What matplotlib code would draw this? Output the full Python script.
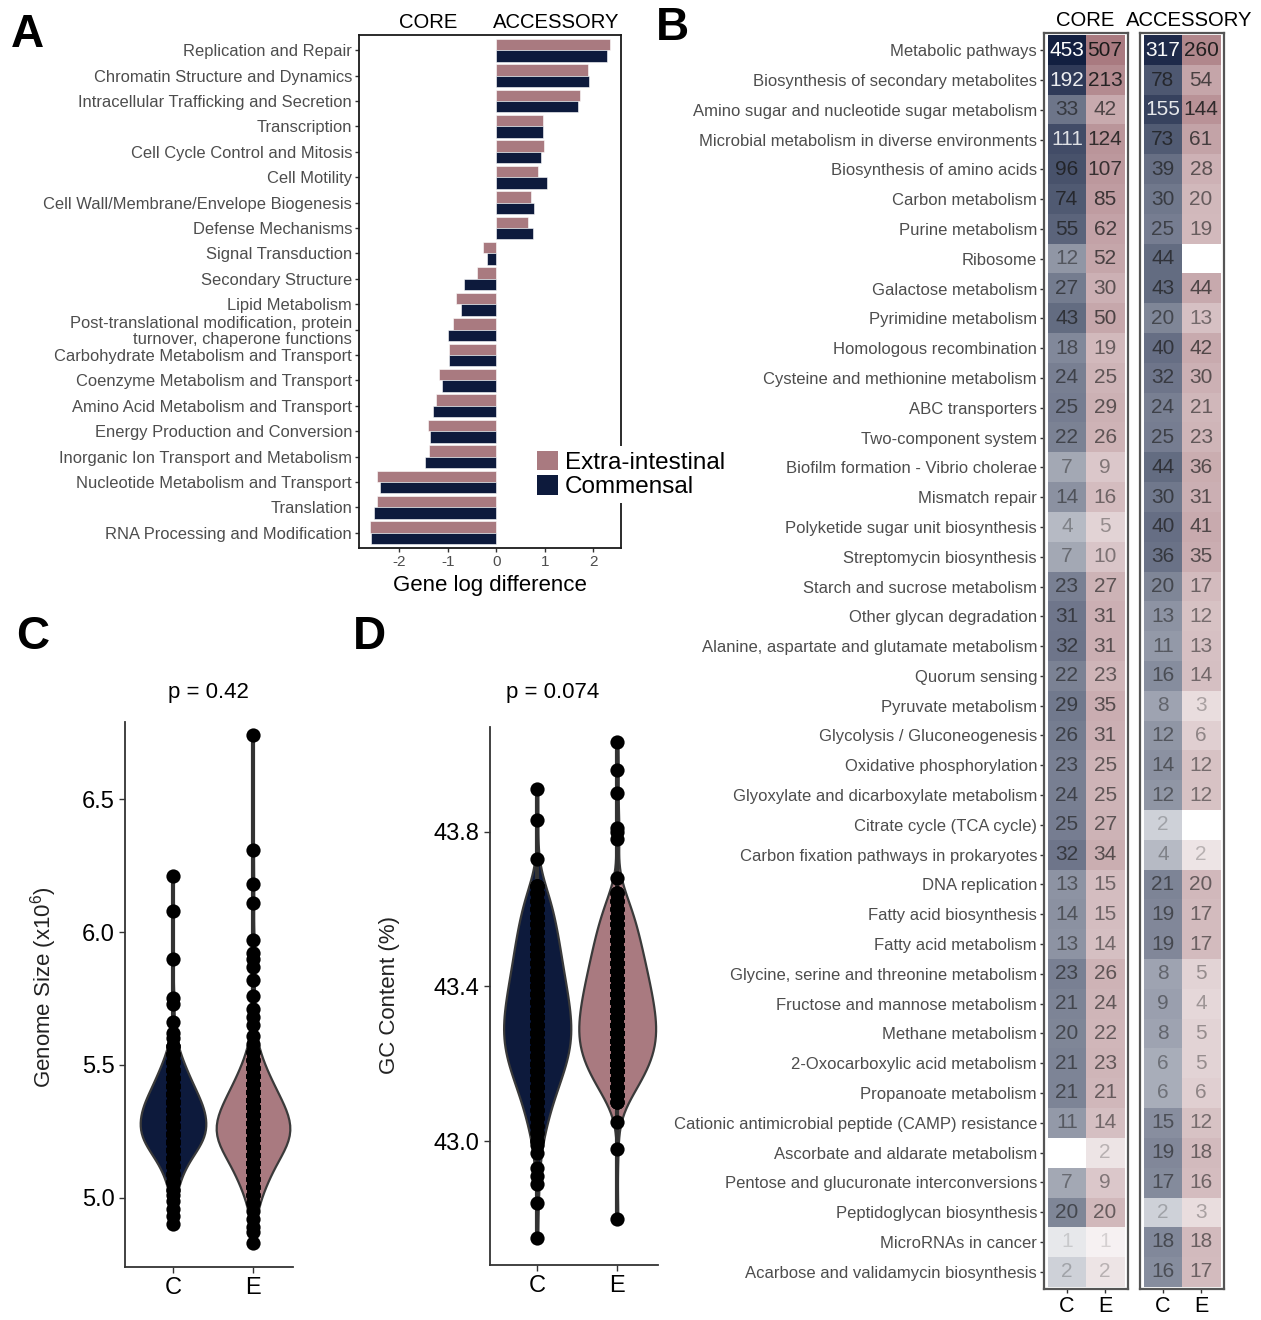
import numpy as np
import matplotlib
matplotlib.use('Agg')
import matplotlib.pyplot as plt
from matplotlib.patches import Patch
from matplotlib.colors import to_rgb

plt.rcParams['font.family'] = ['Liberation Sans', 'DejaVu Sans']
plt.rcParams['mathtext.fontset'] = 'custom'
plt.rcParams['mathtext.rm'] = 'Liberation Sans'

NAVY = '#0d1a3c'
PINK = '#a97a80'
GREY30 = '#4d4d4d'

# ---- panel A : COG categories, gene log difference
cog = ['Replication and Repair', 'Chromatin Structure and Dynamics',
       'Intracellular Trafficking and Secretion', 'Transcription',
       'Cell Cycle Control and Mitosis', 'Cell Motility',
       'Cell Wall/Membrane/Envelope Biogenesis', 'Defense Mechanisms',
       'Signal Transduction', 'Secondary Structure', 'Lipid Metabolism',
       'Post-translational modification, protein\nturnover, chaperone functions',
       'Carbohydrate Metabolism and Transport', 'Coenzyme Metabolism and Transport',
       'Amino Acid Metabolism and Transport', 'Energy Production and Conversion',
       'Inorganic Ion Transport and Metabolism', 'Nucleotide Metabolism and Transport',
       'Translation', 'RNA Processing and Modification']
cog_extra = [2.34, 1.88, 1.73, 0.97, 0.98, 0.86, 0.72, 0.66, -0.28, -0.40,
             -0.84, -0.90, -0.98, -1.18, -1.25, -1.41, -1.38, -2.46, -2.45, -2.60]
cog_comm = [2.28, 1.91, 1.68, 0.97, 0.93, 1.04, 0.77, 0.76, -0.20, -0.66,
            -0.72, -1.00, -0.97, -1.12, -1.30, -1.37, -1.46, -2.39, -2.52, -2.59]

# ---- panel B : KEGG pathway gene counts
kegg = ['Metabolic pathways', 'Biosynthesis of secondary metabolites',
        'Amino sugar and nucleotide sugar metabolism',
        'Microbial metabolism in diverse environments', 'Biosynthesis of amino acids',
        'Carbon metabolism', 'Purine metabolism', 'Ribosome', 'Galactose metabolism',
        'Pyrimidine metabolism', 'Homologous recombination',
        'Cysteine and methionine metabolism', 'ABC transporters', 'Two-component system',
        'Biofilm formation - Vibrio cholerae', 'Mismatch repair',
        'Polyketide sugar unit biosynthesis', 'Streptomycin biosynthesis',
        'Starch and sucrose metabolism', 'Other glycan degradation',
        'Alanine, aspartate and glutamate metabolism', 'Quorum sensing',
        'Pyruvate metabolism', 'Glycolysis / Gluconeogenesis', 'Oxidative phosphorylation',
        'Glyoxylate and dicarboxylate metabolism', 'Citrate cycle (TCA cycle)',
        'Carbon fixation pathways in prokaryotes', 'DNA replication',
        'Fatty acid biosynthesis', 'Fatty acid metabolism',
        'Glycine, serine and threonine metabolism', 'Fructose and mannose metabolism',
        'Methane metabolism', '2-Oxocarboxylic acid metabolism', 'Propanoate metabolism',
        'Cationic antimicrobial peptide (CAMP) resistance',
        'Ascorbate and aldarate metabolism', 'Pentose and glucuronate interconversions',
        'Peptidoglycan biosynthesis', 'MicroRNAs in cancer',
        'Acarbose and validamycin biosynthesis']
nan = np.nan
core_c = [453, 192, 33, 111, 96, 74, 55, 12, 27, 43, 18, 24, 25, 22, 7, 14, 4, 7, 23, 31, 32,
          22, 29, 26, 23, 24, 25, 32, 13, 14, 13, 23, 21, 20, 21, 21, 11, nan, 7, 20, 1, 2]
core_e = [507, 213, 42, 124, 107, 85, 62, 52, 30, 50, 19, 25, 29, 26, 9, 16, 5, 10, 27, 31, 31,
          23, 35, 31, 25, 25, 27, 34, 15, 15, 14, 26, 24, 22, 23, 21, 14, 2, 9, 20, 1, 2]
acc_c = [317, 78, 155, 73, 39, 30, 25, 44, 43, 20, 40, 32, 24, 25, 44, 30, 40, 36, 20, 13, 11,
         16, 8, 12, 14, 12, 2, 4, 21, 19, 19, 8, 9, 8, 6, 6, 15, 19, 17, 2, 18, 16]
acc_e = [260, 54, 144, 61, 28, 20, 19, nan, 44, 13, 42, 30, 21, 23, 36, 31, 41, 35, 17, 12, 13,
         14, 3, 6, 12, 12, nan, 2, 20, 17, 17, 5, 4, 5, 5, 6, 12, 18, 16, 3, 18, 17]

# ---- panel C : genome size (x10^6); dense core as value / count, plus single points
gs_c_core = [5.03, 5.06, 5.09, 5.12, 5.15, 5.18, 5.21, 5.24, 5.27, 5.30,
             5.33, 5.36, 5.39, 5.42, 5.45, 5.48, 5.51, 5.54, 5.57, 5.60]
gs_c_n = [2, 4, 5, 7, 10, 14, 18, 20, 20, 19, 19, 17, 14, 12, 10, 8, 6, 4, 3, 1]
gs_c_single = [4.90, 4.93, 4.96, 4.99, 5.01, 5.62, 5.66, 5.73, 5.75, 5.90, 6.08, 6.21]
gs_e_core = [4.98, 5.01, 5.04, 5.07, 5.10, 5.13, 5.16, 5.19, 5.22, 5.25,
             5.28, 5.31, 5.34, 5.37, 5.40, 5.43, 5.46, 5.49, 5.52, 5.55]
gs_e_n = [2, 4, 6, 7, 8, 10, 12, 16, 19, 20, 18, 17, 15, 13, 11, 9, 7, 6, 4, 3]
gs_e_single = [4.83, 4.87, 4.89, 4.92, 4.95, 5.58, 5.61, 5.65, 5.68, 5.71, 5.76, 5.82,
               5.87, 5.90, 5.92, 5.97, 6.11, 6.18, 6.31, 6.74]

# ---- panel D : GC content (%)
gc_c_core = [43.00, 43.02, 43.04, 43.06, 43.08, 43.10, 43.12, 43.14, 43.16, 43.18, 43.20, 43.22,
             43.24, 43.26, 43.28, 43.30, 43.32, 43.34, 43.36, 43.38, 43.40, 43.42, 43.44, 43.46,
             43.48, 43.50, 43.52, 43.54, 43.56, 43.58, 43.60, 43.62, 43.64, 43.66]
gc_c_n = [2, 2, 3, 4, 4, 5, 6, 7, 8, 9, 10, 11, 11, 12, 12, 12, 11, 11, 11, 10, 10, 9, 9, 8,
          8, 8, 7, 7, 6, 6, 5, 5, 4, 4]
gc_c_single = [42.75, 42.84, 42.89, 42.91, 42.93, 42.97, 42.99, 43.73, 43.83, 43.91]
gc_e_core = [43.10, 43.12, 43.14, 43.16, 43.18, 43.20, 43.22, 43.24, 43.26, 43.28, 43.30, 43.32,
             43.34, 43.36, 43.38, 43.40, 43.42, 43.44, 43.46, 43.48, 43.50, 43.52, 43.54, 43.56,
             43.58, 43.60, 43.62, 43.64]
gc_e_n = [3, 5, 6, 7, 9, 10, 11, 11, 12, 12, 12, 11, 11, 11, 10, 10, 9, 9, 8, 8, 7, 7, 6, 6,
          5, 4, 4, 3]
gc_e_single = [42.80, 42.98, 43.05, 43.68, 43.78, 43.80, 43.81, 43.90, 43.96, 44.03]

W, H = 1261, 1320
fig = plt.figure(figsize=(W / 100, H / 100), dpi=100)


def box(l, t, r, b):
    return [l / W, 1 - b / H, (r - l) / W, (b - t) / H]


def ftext(x, y, s, **kw):
    fig.text(x / W, 1 - y / H, s, **kw)


# ================= A
axA = fig.add_axes(box(359, 35, 621, 548))
ypos = np.arange(len(cog))
axA.barh(ypos - 0.225, cog_extra, height=0.45, color=PINK, edgecolor='white', linewidth=0.4)
axA.barh(ypos + 0.225, cog_comm, height=0.45, color=NAVY, edgecolor='white', linewidth=0.4)
axA.set_ylim(len(cog) - 0.4, -0.6)
axA.set_xlim(-2.83, 2.57)
axA.set_yticks(ypos)
axA.set_yticklabels(cog, fontsize=11.9, color=GREY30, linespacing=1.05)
axA.set_xticks([-2, -1, 0, 1, 2])
axA.set_xticklabels(['-2', '-1', '0', '1', '2'], fontsize=11, color=GREY30)
axA.tick_params(length=3, width=1, color='#333333', pad=2)
for s in axA.spines.values():
    s.set_linewidth(1.3)
    s.set_color('#1a1a1a')
axA.set_xlabel('Gene log difference', fontsize=16, labelpad=4)
leg = axA.legend(handles=[Patch(facecolor=PINK, label='Extra-intestinal'),
                          Patch(facecolor=NAVY, label='Commensal')],
                 loc='upper left', bbox_to_anchor=(532 / W, 1 - 446 / H),
                 bbox_transform=fig.transFigure, frameon=True, framealpha=1,
                 edgecolor='white', fontsize=17.5, handlelength=0.85, handleheight=0.85,
                 handletextpad=0.3, labelspacing=0.05, borderpad=0.2, borderaxespad=0)
leg.get_frame().set_linewidth(0)
ftext(428, 22, 'CORE', fontsize=14.6, ha='center', va='center')
ftext(556, 22, 'ACCESSORY', fontsize=14.6, ha='center', va='center')


# ================= B
def heat(ax, cvals, evals, labels):
    vals = np.array([cvals, evals], dtype=float).T
    n = vals.shape[0]
    vmax = np.nanmax([core_c, core_e, acc_c, acc_e])
    rgba = np.zeros((n, 2, 4))
    for j, base in enumerate([NAVY, PINK]):
        rgb = to_rgb(base)
        for i in range(n):
            v = vals[i, j]
            if np.isnan(v):
                continue
            a = 0.1 + 0.9 * np.log(v) / np.log(vmax)
            rgba[i, j, :3] = rgb
            rgba[i, j, 3] = a
            tc = 'white' if (j == 0 and v >= 100) else '#1a1a1a'
            ax.text(j, i, '%d' % v, ha='center', va='center', fontsize=15,
                    color=tc, alpha=min(1, a + 0.05))
    ax.imshow(rgba, aspect='auto', extent=(-0.5, 1.5, n - 0.5, -0.5), interpolation='nearest')
    ax.set_xlim(-0.6, 1.6)
    ax.set_ylim(n - 0.42, -0.58)
    ax.set_xticks([0, 1])
    ax.set_xticklabels(['C', 'E'], fontsize=15.5)
    ax.set_yticks(np.arange(n))
    if labels:
        ax.set_yticklabels(kegg, fontsize=12, color=GREY30)
    else:
        ax.tick_params(axis='y', left=False, labelleft=False)
    ax.tick_params(length=3, width=1, color='#333333', pad=2)
    for s in ax.spines.values():
        s.set_linewidth(1.6)
        s.set_color('#555555')


axB1 = fig.add_axes(box(1044, 33, 1128, 1289))
heat(axB1, core_c, core_e, True)
axB2 = fig.add_axes(box(1140, 33, 1224, 1289))
heat(axB2, acc_c, acc_e, False)
ftext(1085, 20, 'CORE', fontsize=14.6, ha='center', va='center')
ftext(1189, 20, 'ACCESSORY', fontsize=14.6, ha='center', va='center')


# ================= C / D
def violins(ax, groups, widths):
    data = []
    for core, n, single in groups:
        data.append(np.concatenate([np.repeat(core, n), single]))
    parts = ax.violinplot(data, positions=[1, 2], widths=widths, showextrema=False,
                          bw_method=0.3)
    for body, col in zip(parts['bodies'], [NAVY, PINK]):
        body.set_facecolor(col)
        body.set_edgecolor('#3a3a3a')
        body.set_linewidth(1.6)
        body.set_alpha(1)
    for k, d in enumerate(data):
        ax.plot([k + 1, k + 1], [d.min(), d.max()], color='#333333', lw=3, zorder=3)
        ax.scatter(np.full(len(d), k + 1), d, s=105, color='black', zorder=4, linewidths=0)
    ax.set_xticks([1, 2])
    ax.set_xticklabels(['C', 'E'], fontsize=17)
    ax.tick_params(labelsize=17, length=4, width=1, color='#333333')
    for s in ['top', 'right']:
        ax.spines[s].set_visible(False)
    for s in ['left', 'bottom']:
        ax.spines[s].set_linewidth(1.3)
        ax.spines[s].set_color('#333333')


axC = fig.add_axes(box(125, 722, 293, 1267))
violins(axC, [(gs_c_core, gs_c_n, gs_c_single), (gs_e_core, gs_e_n, gs_e_single)], [0.82, 0.92])
axC.set_xlim(0.4, 2.5)
axC.set_ylim(4.74, 6.79)
axC.set_yticks([5.0, 5.5, 6.0, 6.5])
axC.set_yticklabels(['5.0', '5.5', '6.0', '6.5'])
ftext(44, 987, 'Genome Size (x10$^{6}$)', fontsize=16, rotation=90, ha='center', va='center',
      color='#222222')
ftext(208, 692, 'p = 0.42', fontsize=16, ha='center', va='center')

axD = fig.add_axes(box(490, 727, 658, 1265))
violins(axD, [(gc_c_core, gc_c_n, gc_c_single), (gc_e_core, gc_e_n, gc_e_single)], [0.84, 0.96])
axD.set_xlim(0.41, 2.51)
axD.set_ylim(42.68, 44.07)
axD.set_yticks([43.0, 43.4, 43.8])
axD.set_yticklabels(['43.0', '43.4', '43.8'])
ftext(390, 995, 'GC Content (%)', fontsize=16, rotation=90, ha='center', va='center',
      color='#222222')
ftext(553, 692, 'p = 0.074', fontsize=16, ha='center', va='center')

# panel letters
for x, y, s in [(27, 35, 'A'), (672, 28, 'B'), (33, 637, 'C'), (369, 637, 'D')]:
    ftext(x, y, s, fontsize=33, fontweight='bold', ha='center', va='center',
          family=['Liberation Sans Narrow', 'Liberation Sans'])

fig.savefig('out.png', dpi=100)
